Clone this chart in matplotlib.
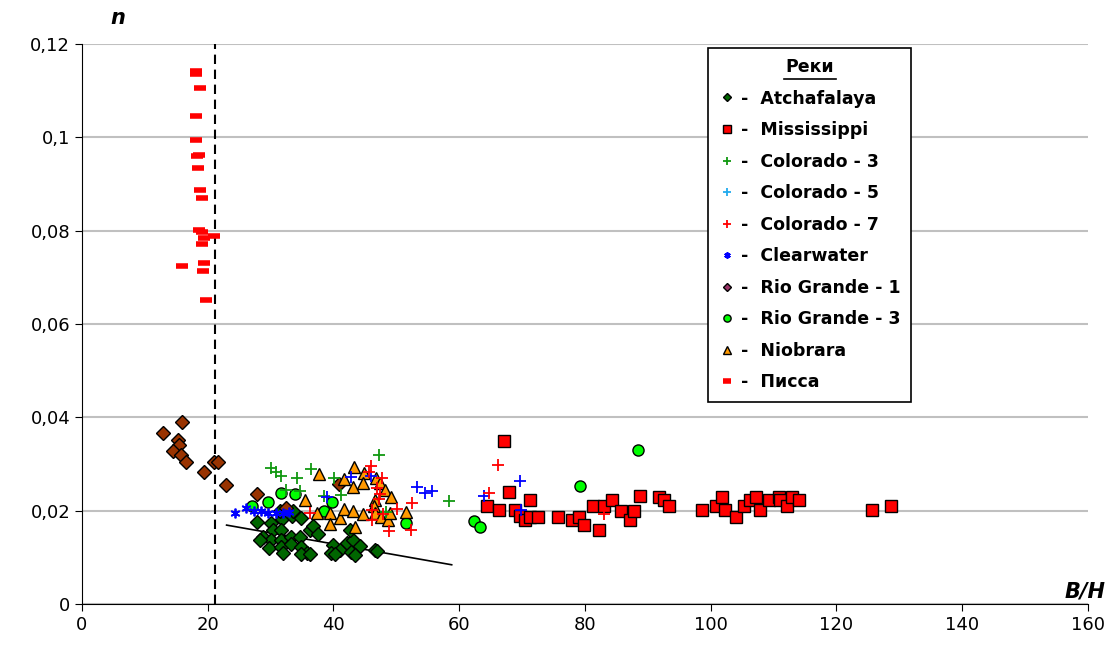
import matplotlib
matplotlib.use('Agg')
import matplotlib.pyplot as plt
from matplotlib.lines import Line2D
from matplotlib.transforms import IdentityTransform
from matplotlib.ticker import FuncFormatter

# Данные: B/H и коэффициент шероховатости n для разных рек
atch_x = [27.8, 30.0, 31.8, 33.4, 30.4, 31.7, 28.8, 30.0, 31.7, 33.2, 34.7, 36.2, 36.8,
          29.7, 31.7, 33.2, 32.0, 34.9, 35.8, 34.8, 28.3, 36.2, 39.9, 41.1, 42.2, 43.1,
          44.2, 42.8, 39.6, 42.6, 46.6, 47.0, 40.2, 43.5, 33.6, 31.5, 34.8, 37.6]
atch_y = [0.0176, 0.0173, 0.0183, 0.0188, 0.0159, 0.0159, 0.0143, 0.0137, 0.0137, 0.0143,
          0.0144, 0.0159, 0.0168, 0.0121, 0.0123, 0.0129, 0.0109, 0.0123, 0.0109, 0.0107,
          0.0137, 0.0107, 0.0126, 0.0116, 0.0130, 0.0137, 0.0124, 0.0111, 0.0110, 0.0159,
          0.0116, 0.0114, 0.0107, 0.0105, 0.0200, 0.0200, 0.0185, 0.0150]

miss_x = [64.4, 66.3, 67.1, 67.9, 68.8, 69.6, 70.4, 71.3, 71.3, 72.6, 75.7, 77.9, 79.0,
          79.9, 81.2, 82.2, 83.0, 84.3, 85.7, 87.2, 87.8, 88.7, 91.7, 92.6, 93.3, 98.6,
          100.9, 101.8, 102.3, 104.0, 105.3, 106.2, 107.2, 107.9, 109.2, 110.9, 111.0,
          112.1, 113.0, 114.1, 125.6, 128.6]
miss_y = [0.0210, 0.0201, 0.0350, 0.0240, 0.0201, 0.0189, 0.0181, 0.0223, 0.0187, 0.0187,
          0.0187, 0.0181, 0.0187, 0.0170, 0.0210, 0.0159, 0.0210, 0.0223, 0.0200, 0.0180,
          0.0200, 0.0231, 0.0230, 0.0223, 0.0210, 0.0201, 0.0210, 0.0230, 0.0201, 0.0187,
          0.0210, 0.0223, 0.0230, 0.0201, 0.0223, 0.0230, 0.0223, 0.0209, 0.0230, 0.0223,
          0.0201, 0.0210]

col3_x = [30.0, 30.8, 31.7, 34.2, 36.4, 40.1, 41.2, 34.7, 47.2, 48.3, 58.3, 38.5, 32.5]
col3_y = [0.0292, 0.0282, 0.0275, 0.0271, 0.0289, 0.0271, 0.0233, 0.0243, 0.0319, 0.0197,
          0.0221, 0.0231, 0.0245]

col5_x = [38.9, 42.8, 45.9, 53.3, 54.5, 55.6, 64.0, 69.6, 69.8]
col5_y = [0.0230, 0.0272, 0.0275, 0.0250, 0.0237, 0.0242, 0.0231, 0.0263, 0.0201]

col7_x = [36.2, 45.9, 45.6, 47.7, 47.4, 47.2, 46.2, 46.1, 47.8, 48.8, 50.1, 52.5, 52.4,
          66.1, 64.8, 83.1, 47.0]
col7_y = [0.0196, 0.0296, 0.0283, 0.0271, 0.0236, 0.0225, 0.0202, 0.0180, 0.0193, 0.0156,
          0.0203, 0.0217, 0.0159, 0.0297, 0.0237, 0.0193, 0.0248]

clear_x = [24.3, 26.1, 27.3, 28.5, 29.6, 30.8, 32.0, 33.0]
clear_y = [0.0195, 0.0205, 0.0200, 0.0200, 0.0196, 0.0194, 0.0195, 0.0198]

rg1_x = [15.9, 12.9, 15.3, 15.4, 14.5, 15.7, 16.5, 19.4, 21.0, 21.6, 22.9, 27.8, 32.4, 40.9]
rg1_y = [0.0389, 0.0367, 0.0351, 0.0341, 0.0328, 0.0320, 0.0304, 0.0283, 0.0304, 0.0304,
         0.0256, 0.0236, 0.0206, 0.0257]

rg3_x = [27.1, 29.6, 31.6, 33.9, 39.8, 38.5, 51.5, 62.3, 63.3, 79.2, 88.4]
rg3_y = [0.0209, 0.0219, 0.0237, 0.0236, 0.0219, 0.0200, 0.0174, 0.0177, 0.0164, 0.0252,
         0.0330]

niob_x = [35.4, 37.7, 37.4, 39.4, 39.4, 41.0, 41.6, 41.6, 43.1, 43.3, 43.1, 43.4, 44.8,
          44.7, 44.7, 46.8, 46.6, 46.5, 46.6, 47.4, 47.6, 48.2, 48.7, 49.0, 49.2, 51.5]
niob_y = [0.0222, 0.0278, 0.0195, 0.0194, 0.0171, 0.0185, 0.0203, 0.0267, 0.0251, 0.0294,
          0.0199, 0.0164, 0.0280, 0.0259, 0.0193, 0.0271, 0.0223, 0.0209, 0.0194, 0.0259,
          0.0187, 0.0244, 0.0180, 0.0194, 0.0229, 0.0198]

pissa_x = [18.1, 18.1, 18.8, 18.1, 18.1, 18.6, 18.3, 18.5, 18.8, 19.1, 18.6, 19.1, 19.4,
           19.1, 21.0, 15.9, 19.4, 19.3, 19.7]
pissa_y = [0.1143, 0.1136, 0.1106, 0.1046, 0.0994, 0.0963, 0.0959, 0.0934, 0.0887, 0.0870,
           0.0801, 0.0796, 0.0784, 0.0771, 0.0789, 0.0724, 0.0731, 0.0714, 0.0651]

# линия тренда и граница B/H
trend_x = [23.0, 58.8]
trend_y = [0.0169, 0.0084]
bh_limit = 21.2

fig = plt.figure(figsize=(11.17, 6.56), dpi=100)
ax = fig.add_axes([0.0734, 0.0793, 0.9006, 0.8537])

ax.set_xlim(0, 160)
ax.set_ylim(0, 0.12)
ax.set_xticks(range(0, 161, 20))
ax.set_yticks([0, 0.02, 0.04, 0.06, 0.08, 0.1, 0.12])
ax.yaxis.set_major_formatter(FuncFormatter(lambda v, p: ('%g' % round(v, 3)).replace('.', ',')))
ax.tick_params(labelsize=13, direction='out', length=5, color='black')
ax.grid(axis='y', color='#c0c0c0', linewidth=1.5)
ax.set_axisbelow(True)
for s in ['top', 'right']:
    ax.spines[s].set_visible(False)
for s in ['left', 'bottom']:
    ax.spines[s].set_color('black')

ax.axvline(bh_limit, color='black', linestyle=(0, (4.5, 2.7)), linewidth=1.5, zorder=2)
ax.plot(trend_x, trend_y, color='black', linewidth=1.2, zorder=2)

ek = dict(ls='none', markeredgecolor='black', markeredgewidth=1.0)
ax.plot(atch_x, atch_y, marker='D', ms=7, markerfacecolor='#006600', label='-  Atchafalaya', zorder=3, **ek)
ax.plot(miss_x, miss_y, marker='s', ms=8.5, markerfacecolor='#ff0000', label='-  Mississippi', zorder=3, **ek)
ax.plot(col3_x, col3_y, marker='+', ms=9, mew=1.3, ls='none', color='#119911', label='-  Colorado - 3', zorder=5)
ax.plot(col5_x, col5_y, marker='+', ms=9, mew=1.3, ls='none', color='#0000ff', label='-  Colorado - 5', zorder=5)
ax.plot(col7_x, col7_y, marker='+', ms=9, mew=1.3, ls='none', color='#ff0000', label='-  Colorado - 7', zorder=5)
ax.plot(clear_x, clear_y, marker=(6, 2, 0), ms=7, mew=1.3, ls='none', color='#0000ff', label='-  Clearwater', zorder=5)
ax.plot(rg1_x, rg1_y, marker='D', ms=7, markerfacecolor='#993300', label='-  Rio Grande - 1', zorder=3, **ek)
ax.plot(rg3_x, rg3_y, marker='o', ms=8, markerfacecolor='#00ff00', label='-  Rio Grande - 3', zorder=3, **ek)
ax.plot(niob_x, niob_y, marker='^', ms=9, markerfacecolor='#ff9900', label='-  Niobrara', zorder=4, **ek)
ax.plot(pissa_x, pissa_y, marker='_', ms=8, mew=4, ls='none', color='#ff0000', label='-  Писса', zorder=4)

leg = ax.legend(loc='upper left', bbox_to_anchor=(0.614, 1.009), title='Реки',
                prop={'weight': 'bold', 'size': 12.5}, title_fontproperties={'weight': 'bold', 'size': 12.5},
                frameon=True, fancybox=False, edgecolor='black', framealpha=1,
                markerscale=0.65, handlelength=1.0, handletextpad=0.3,
                labelspacing=0.78, borderpad=0.6)
leg.get_frame().set_linewidth(1.2)
# цвета маркеров в легенде
leg.legend_handles[3].set_color('#22aaee')
leg.legend_handles[6].set_markerfacecolor('#993366')

fig.text(0.1056, 0.972, 'n', fontsize=15, fontweight='bold', style='italic', ha='center', va='center')
fig.text(0.9714, 0.0976, 'B/H', fontsize=15, fontweight='bold', style='italic', ha='center', va='center')

# подчёркивание заголовка легенды
fig.canvas.draw()
bb = leg.get_title().get_window_extent()
fig.add_artist(Line2D([bb.x0 - 2, bb.x1 + 2], [bb.y0 - 3, bb.y0 - 3], transform=IdentityTransform(),
                      color='black', linewidth=1.2))

fig.savefig('out.png', dpi=100)
